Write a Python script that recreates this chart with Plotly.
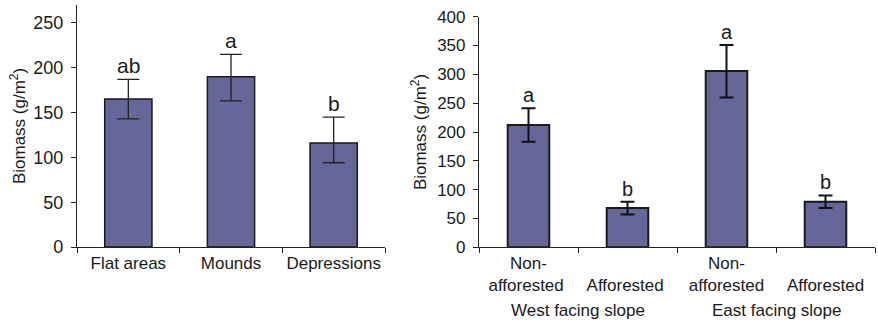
import plotly.graph_objects as go

# Left panel data
left_categories = ["Flat areas", "Mounds", "Depressions"]
left_values = [165, 190, 116]
left_err_plus = [22, 25, 29]
left_err_minus = [22, 27, 22]
left_letters = ["ab", "a", "b"]
left_yticks = [0, 50, 100, 150, 200, 250]

# Right panel data
right_categories = ["Non-<br>afforested ", "<br>Afforested ", "Non-<br>afforested", "<br>Afforested"]
right_values = [212, 68, 306, 79]
right_err_plus = [29, 11, 45, 11]
right_err_minus = [29, 11, 46, 11]
right_letters = ["a", "b", "a", "b"]
right_groups = ["West facing slope", "East facing slope"]
right_yticks = [0, 50, 100, 150, 200, 250, 300, 350, 400]

BAR = "#666699"
EDGE = "#1a1a1a"
TXT = "#1a1a1a"
FONT = "Liberation Sans, Arial, sans-serif"

fig = go.Figure()
fig.add_trace(go.Bar(
    x=left_categories, y=left_values, xaxis="x", yaxis="y", width=0.46,
    marker=dict(color=BAR, line=dict(color=EDGE, width=1.5)),
    error_y=dict(type="data", symmetric=False, array=left_err_plus, arrayminus=left_err_minus,
                 color="#222222", thickness=1.3, width=11),
    showlegend=False,
))
fig.add_trace(go.Bar(
    x=right_categories, y=right_values, xaxis="x2", yaxis="y2", width=0.42,
    marker=dict(color=BAR, line=dict(color=EDGE, width=2)),
    error_y=dict(type="data", symmetric=False, array=right_err_plus, arrayminus=right_err_minus,
                 color="#111111", thickness=2, width=7),
    showlegend=False,
))

W, H = 878, 326


def axis_style(size):
    return dict(showline=True, linecolor="#222222", linewidth=1.2, showgrid=False, zeroline=False,
                ticks="outside", tickcolor="#222222", ticklen=5, tickwidth=1.2, tickangle=0,
                automargin=False, tickfont=dict(family=FONT, size=size, color=TXT))


ytitle_font = dict(family=FONT, size=17, color=TXT)

fig.update_layout(
    width=W, height=H, margin=dict(l=0, r=0, t=0, b=0),
    paper_bgcolor="white", plot_bgcolor="white",
    font=dict(family=FONT, color=TXT),
    xaxis=dict(domain=[77 / W, 385 / W], anchor="y", type="category", tickson="boundaries",
               range=[-0.5, 2.5], **axis_style(17)),
    yaxis=dict(domain=[1 - 247 / H, 1 - 5 / H], anchor="x", range=[0, 270],
               tickvals=left_yticks, ticklabelstandoff=4,
               title=dict(text="Biomass (g/m<sup>2</sup>)", font=ytitle_font, standoff=3),
               **axis_style(18)),
    xaxis2=dict(domain=[479 / W, 875 / W], anchor="y2", type="category", tickson="boundaries",
                range=[-0.5, 3.5], **axis_style(17)),
    yaxis2=dict(domain=[1 - 247.3 / H, 1 - 16.7 / H], anchor="x2", range=[0, 400],
                tickvals=right_yticks, ticklabelstandoff=4,
                title=dict(text="Biomass (g/m<sup>2</sup>)", font=ytitle_font, standoff=6),
                **axis_style(17)),
)

annotations = []
for c, v, e, t in zip(left_categories, left_values, left_err_plus, left_letters):
    annotations.append(dict(x=c, y=v + e, xref="x", yref="y", text=t, showarrow=False,
                            yanchor="bottom", yshift=0, font=dict(family=FONT, size=21, color=TXT)))
for c, v, e, t in zip(right_categories, right_values, right_err_plus, right_letters):
    annotations.append(dict(x=c, y=v + e, xref="x2", yref="y2", text=t, showarrow=False,
                            yanchor="bottom", yshift=0, font=dict(family=FONT, size=20, color=TXT)))
for i, g in enumerate(right_groups):
    annotations.append(dict(x=0.5 + 2 * i, y=1 - 310 / H, xref="x2", yref="paper", text=g,
                            showarrow=False, yanchor="middle", font=dict(family=FONT, size=17, color=TXT)))
fig.update_layout(annotations=annotations)

fig.write_html("out.html", config={"displayModeBar": False},
               post_script="document.body.style.margin='0';document.body.style.overflow='hidden';")
